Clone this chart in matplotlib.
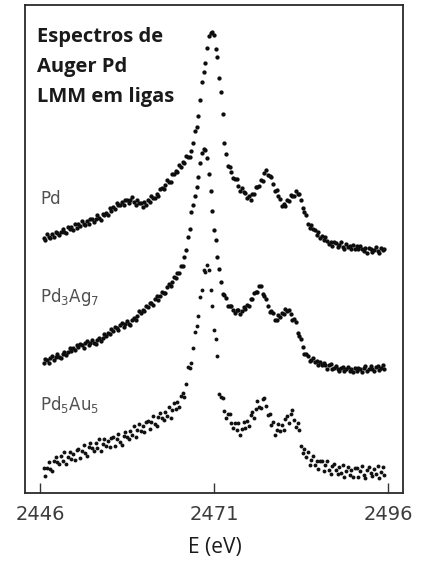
import numpy as np
import matplotlib
matplotlib.use('Agg')
import matplotlib.pyplot as plt

# energias (eV), passo de 0.25 eV
energy = np.arange(2446.5, 2495.51, 0.25)

# intensidades (u.a.) dos espectros Auger Pd LMM
pd_pure = [255, 253, 259, 256, 255, 259, 256, 261, 260, 258, 261, 264, 261, 260, 266, 264, 266, 263, 269, 265,
           269, 267, 272, 269, 268, 272, 269, 274, 274, 271, 274, 278, 275, 273, 279, 278, 280, 278, 285, 282,
           286, 284, 290, 288, 288, 291, 288, 293, 293, 290, 293, 296, 291, 288, 293, 290, 290, 286, 291, 288,
           293, 291, 297, 295, 295, 299, 297, 304, 305, 304, 308, 313, 311, 311, 319, 319, 322, 321, 328, 326,
           331, 330, 337, 336, 336, 342, 350, 362, 366, 377, 393, 411, 421, 430, 445, 457, 460, 461, 458, 444,
           436, 415, 401, 379, 350, 339, 327, 326, 321, 315, 314, 314, 307, 302, 305, 301, 300, 295, 297, 293,
           299, 299, 306, 306, 307, 313, 312, 320, 323, 318, 317, 316, 309, 302, 303, 297, 294, 287, 289, 287,
           293, 292, 298, 297, 297, 302, 299, 299, 293, 285, 281, 278, 269, 265, 268, 264, 263, 258, 261, 255,
           257, 253, 256, 252, 249, 251, 247, 251, 250, 246, 248, 251, 246, 244, 249, 246, 247, 244, 248, 244,
           247, 244, 247, 244, 242, 245, 240, 245, 244, 241, 243, 246, 242, 240, 245, 243, 244]

pd3ag7 = [130, 134, 133, 130, 135, 137, 133, 136, 139, 136, 135, 139, 141, 138, 141, 145, 142, 145, 143, 148,
          146, 149, 148, 145, 150, 152, 148, 150, 153, 150, 149, 153, 155, 152, 155, 159, 157, 160, 159, 164,
          162, 166, 165, 163, 168, 170, 166, 169, 172, 169, 168, 173, 175, 173, 177, 182, 180, 183, 182, 187,
          186, 190, 190, 188, 194, 197, 193, 197, 201, 200, 200, 206, 209, 207, 211, 216, 215, 220, 220, 227,
          227, 236, 243, 256, 264, 281, 288, 297, 306, 316, 330, 340, 344, 343, 335, 319, 302, 282, 263, 253,
          236, 224, 211, 199, 198, 195, 187, 187, 187, 183, 180, 183, 183, 179, 182, 186, 184, 188, 187, 194,
          194, 200, 201, 201, 207, 207, 199, 197, 194, 187, 181, 182, 180, 173, 173, 178, 176, 180, 179, 184,
          182, 183, 179, 173, 174, 171, 160, 157, 154, 146, 139, 139, 137, 132, 133, 135, 131, 132, 128, 131,
          128, 130, 128, 124, 128, 129, 124, 125, 127, 124, 122, 125, 126, 122, 124, 126, 122, 124, 121, 125,
          122, 125, 124, 121, 125, 127, 122, 124, 127, 124, 122, 126, 127, 123, 125, 128, 124]

pd5au5 = [25, 17, 25, 31, 24, 22, 32, 36, 31, 29, 37, 32, 41, 29, 36, 41, 34, 39, 33, 43,
          44, 35, 42, 48, 40, 37, 46, 50, 45, 42, 50, 45, 54, 42, 49, 54, 47, 52, 46, 55,
          56, 47, 54, 59, 51, 48, 57, 61, 56, 54, 62, 58, 67, 56, 63, 69, 62, 67, 61, 71,
          72, 64, 71, 77, 69, 67, 76, 80, 75, 73, 81, 77, 86, 75, 83, 90, 84, 91, 86, 97,
          100, 96, 109, 126, 125, 130, 145, 161, 167, 177, 196, 203, 223, 221, 228, 223, 203, 187, 163, 154,
          137, 99, 96, 95, 82, 75, 79, 79, 70, 65, 70, 63, 70, 58, 64, 71, 65, 72, 67, 78,
          81, 75, 84, 92, 86, 85, 94, 95, 87, 78, 79, 68, 71, 58, 63, 69, 62, 68, 63, 74,
          77, 70, 79, 83, 73, 66, 70, 63, 47, 40, 44, 36, 41, 28, 33, 37, 28, 32, 24, 32,
          32, 22, 28, 32, 23, 19, 27, 29, 23, 19, 26, 20, 28, 16, 22, 26, 18, 23, 16, 25,
          25, 16, 22, 27, 18, 15, 23, 26, 20, 17, 24, 19, 27, 15, 21, 26, 18]

xticks = [2446, 2471, 2496]
xtick_labels = ['2446', '2471', '2496']

for s in (pd_pure, pd3ag7, pd5au5):
    assert len(s) == len(energy), (len(s), len(energy))

W, H = 421, 563
fig = plt.figure(figsize=(W / 100, H / 100), dpi=100)
ax = fig.add_axes([25 / W, 70 / H, 378 / W, 488 / H])

# os pontos da liga Pd5Au5 são mais dispersos
ax.plot(energy, pd_pure, ls='none', marker='o', ms=3.1, mew=0, color='#0d0d0d')
ax.plot(energy, pd3ag7, ls='none', marker='o', ms=3.1, mew=0, color='#0d0d0d')
ax.plot(energy, pd5au5, ls='none', marker='o', ms=2.8, mew=0, color='#111111')

ax.set_xlim(2443.84, 2498.16)
ax.set_ylim(0, 488)
ax.set_yticks([])
ax.set_xticks(xticks)
ax.set_xticklabels(xtick_labels)
ax.tick_params(axis='x', direction='in', length=7, width=1.0, pad=9,
               labelsize=14, labelcolor='#3c3c3c', color='#333333')
for sp in ax.spines.values():
    sp.set_linewidth(1.3)
    sp.set_color('#2a2a2a')

# rótulos das ligas
lab = dict(fontsize=12, color='#505050', family='DejaVu Sans', va='baseline')
fig.text(40 / W, 1 - 204 / H, 'Pd', **lab)
fig.text(40 / W, 1 - 302 / H, r'Pd$_{\mathregular{3}}$Ag$_{\mathregular{7}}$', **lab)
fig.text(40 / W, 1 - 410 / H, r'Pd$_{\mathregular{5}}$Au$_{\mathregular{5}}$', **lab)

# título
tit = dict(fontsize=14.5, fontweight='bold', family=['Open Sans', 'DejaVu Sans'],
           color='#1a1a1a', va='baseline')
fig.text(37 / W, 1 - 42 / H, 'Espectros de', **tit)
fig.text(37 / W, 1 - 72 / H, 'Auger Pd', **tit)
fig.text(37 / W, 1 - 102 / H, 'LMM em ligas', **tit)

fig.text(215 / W, 1 - 548 / H, 'E (eV)', fontsize=15, fontweight='medium',
         family=['Open Sans', 'DejaVu Sans'], color='#1a1a1a', ha='center', va='center')

fig.savefig('out.png', dpi=100)
